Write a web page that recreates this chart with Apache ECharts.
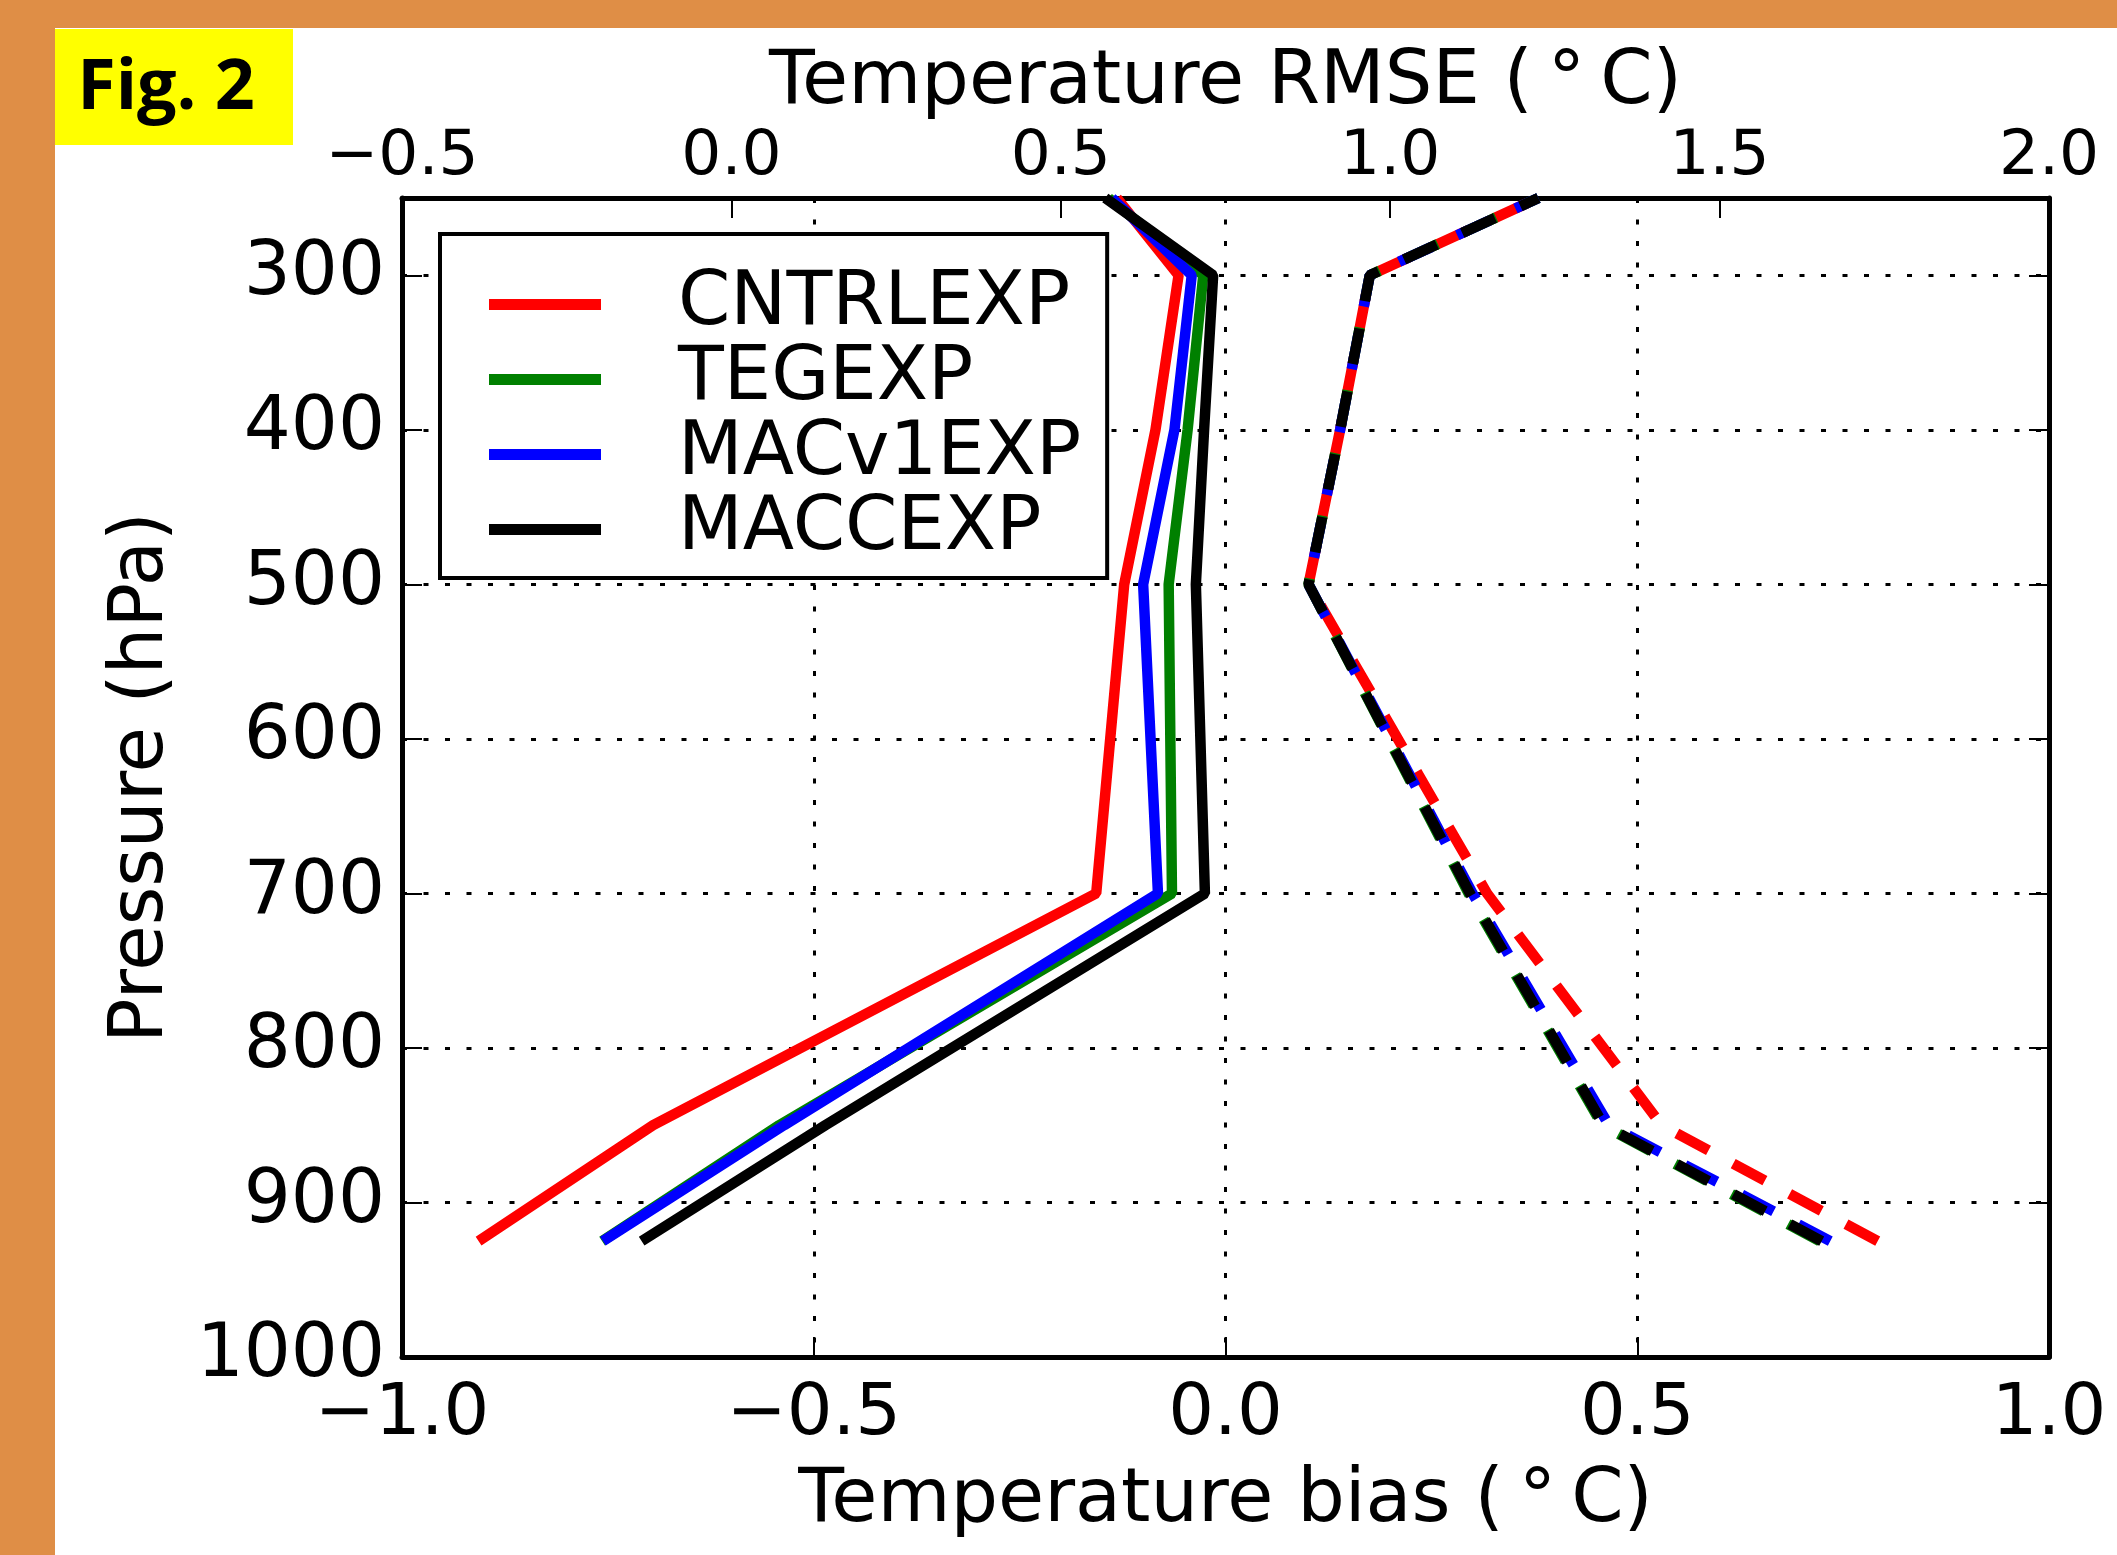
<!DOCTYPE html>
<html>
<head>
<meta charset="utf-8">
<script src="https://cdn.jsdelivr.net/npm/echarts@6/dist/echarts.min.js"></script>
<style>
  html, body { margin: 0; padding: 0; }
  body { width: 2117px; height: 1555px; background: #df8e46; position: relative; overflow: hidden; }
  #panel { position: absolute; left: 55px; top: 28px; right: 0; bottom: 0; background: #fff; }
  #chart { position: absolute; left: 0; top: 0; width: 2117px; height: 1555px; }
</style>
</head>
<body>
<div id="panel"></div>
<div id="chart"></div>
<script>
// pressure levels (hPa), from the lowest level upwards
const levels = [925, 850, 700, 500, 400, 300, 250]

// temperature bias (deg C), solid lines
const cntrlBias = [-0.907, -0.695, -0.157, -0.123, -0.085, -0.057, -0.132]
const tegBias   = [-0.757, -0.542, -0.065, -0.069, -0.046, -0.027, -0.142]
const macv1Bias = [-0.756, -0.536, -0.082, -0.100, -0.062, -0.041, -0.138]
const maccBias  = [-0.709, -0.486, -0.025, -0.036, -0.026, -0.015, -0.146]

// temperature RMSE (deg C), dashed lines
const cntrlRmse = [1.740, 1.412, 1.147, 0.876, 0.924, 0.969, 1.225]
const tegRmse   = [1.652, 1.322, 1.119, 0.876, 0.924, 0.969, 1.225]
const macv1Rmse = [1.668, 1.332, 1.125, 0.876, 0.924, 0.969, 1.225]
const maccRmse  = [1.655, 1.324, 1.121, 0.876, 0.924, 0.969, 1.225]

const expNames = ['CNTRLEXP', 'TEGEXP', 'MACv1EXP', 'MACCEXP']
const expColors = ['#ff0000', '#008000', '#0000ff', '#000000']
const pressureTicks = [300, 400, 500, 600, 700, 800, 900, 1000]

const FONT = 'DejaVu Sans'
const biasSets = [cntrlBias, tegBias, macv1Bias, maccBias]
const rmseSets = [cntrlRmse, tegRmse, macv1Rmse, maccRmse]

function pairs(vals) {
  return vals.map((v, i) => [v, levels[i]])
}
function fmt(v) {
  return (v < 0 ? '\u2212' : '') + Math.abs(v).toFixed(1)
}

const series = []
expNames.forEach((name, i) => {
  series.push({
    name: name,
    type: 'line',
    xAxisIndex: 0,
    yAxisIndex: 0,
    data: pairs(biasSets[i]),
    showSymbol: false,
    symbol: 'none',
    itemStyle: { color: expColors[i] },
    lineStyle: { color: expColors[i], width: 10.5 },
    z: 3
  })
})
expNames.forEach((name, i) => {
  series.push({
    name: name,
    type: 'line',
    xAxisIndex: 1,
    yAxisIndex: 0,
    data: pairs(rmseSets[i]),
    showSymbol: false,
    symbol: 'none',
    itemStyle: { color: expColors[i] },
    lineStyle: { color: expColors[i], width: 10.5, type: [36, 28] },
    z: 3
  })
})

const gridDots = { color: '#000', width: 3, type: [5, 16.5] }

const myChart = echarts.init(document.getElementById('chart'), null, { renderer: 'canvas' })
myChart.setOption({
  animation: false,
  backgroundColor: 'transparent',
  textStyle: { fontFamily: FONT },
  grid: { left: 402, right: 68, top: 198, bottom: 198, outerBoundsMode: 'none' },
  graphic: [
    { type: 'rect', shape: { x: 55, y: 29, width: 238, height: 116 }, style: { fill: '#ffff00' } },
    {
      type: 'text', x: 166, y: 89,
      style: {
        text: 'Fig. 2', fill: '#000', align: 'center', verticalAlign: 'middle',
        font: 'bold 70px "Open Sans", sans-serif'
      }
    }
  ],
  legend: {
    data: expNames,
    orient: 'vertical',
    left: 440,
    top: 234,
    padding: [33, 26, 11, 49],
    itemGap: 0,
    itemWidth: 112,
    itemHeight: 11,
    icon: 'rect',
    backgroundColor: '#fff',
    borderColor: '#000',
    borderWidth: 4,
    borderRadius: 0,
    selectedMode: false,
    textStyle: { fontFamily: FONT, fontSize: 75, color: '#000', lineHeight: 71.5, padding: [0, 0, 0, 72] }
  },
  xAxis: [
    {
      type: 'value',
      position: 'bottom',
      min: -1, max: 1, interval: 0.5,
      name: 'Temperature bias (\u2009\u00b0\u2009C)',
      nameLocation: 'middle',
      nameGap: 107,
      nameMoveOverlap: false,
      nameTextStyle: { fontFamily: FONT, fontSize: 75, color: '#000' },
      axisLine: { show: true, onZero: false, lineStyle: { color: '#000', width: 5 } },
      axisTick: { show: true, inside: true, length: 20, lineStyle: { color: '#000', width: 2 } },
      axisLabel: { fontFamily: FONT, fontSize: 72, color: '#000', margin: 22, formatter: fmt },
      splitLine: { show: true, lineStyle: gridDots }
    },
    {
      type: 'value',
      position: 'top',
      min: -0.5, max: 2, interval: 0.5,
      name: 'Temperature RMSE (\u2009\u00b0\u2009C)',
      nameLocation: 'middle',
      nameGap: 77,
      nameMoveOverlap: false,
      nameTextStyle: { fontFamily: FONT, fontSize: 75, color: '#000' },
      axisLine: { show: true, onZero: false, lineStyle: { color: '#000', width: 5 } },
      axisTick: { show: true, inside: true, length: 20, lineStyle: { color: '#000', width: 2 } },
      axisLabel: { fontFamily: FONT, fontSize: 63, color: '#000', margin: 9, formatter: fmt },
      splitLine: { show: false }
    }
  ],
  yAxis: [
    {
      type: 'value',
      position: 'left',
      inverse: true,
      min: 250, max: 1000,
      name: 'Pressure (hPa)',
      nameLocation: 'middle',
      nameGap: 222,
      nameMoveOverlap: false,
      nameTextStyle: { fontFamily: FONT, fontSize: 74, color: '#000' },
      axisLine: { show: true, onZero: false, lineStyle: { color: '#000', width: 5 } },
      axisTick: { show: true, inside: true, length: 20, customValues: pressureTicks, lineStyle: { color: '#000', width: 2 } },
      axisLabel: {
        fontFamily: FONT, fontSize: 74, color: '#000', margin: 17,
        customValues: pressureTicks, formatter: v => String(v)
      },
      splitLine: { show: true, lineStyle: gridDots }
    },
    {
      type: 'value',
      position: 'right',
      inverse: true,
      min: 250, max: 1000,
      axisLine: { show: true, onZero: false, lineStyle: { color: '#000', width: 5 } },
      axisTick: { show: true, inside: true, length: 20, customValues: pressureTicks, lineStyle: { color: '#000', width: 2 } },
      axisLabel: { show: false },
      splitLine: { show: false }
    }
  ],
  series: series
})
</script>
</body>
</html>
